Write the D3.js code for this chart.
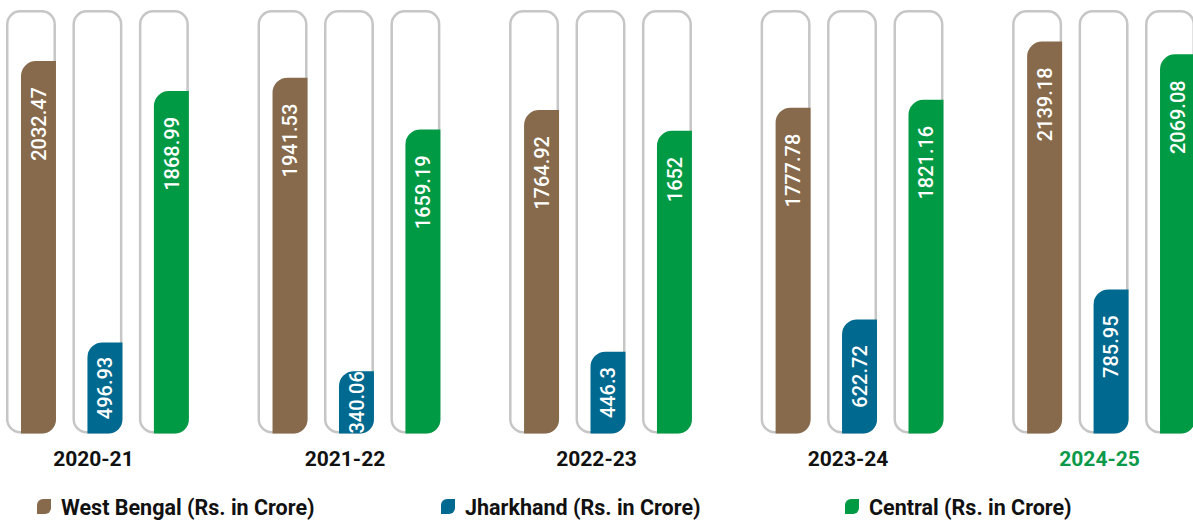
<!DOCTYPE html>
<html>
<head>
<meta charset="utf-8">
<script src="https://cdn.jsdelivr.net/npm/d3@7"></script>
<style>
  html, body { margin: 0; padding: 0; background: #ffffff; }
  svg { display: block; }
</style>
</head>
<body>
<svg id="chart" width="1193" height="521"></svg>
<script>
const years = ["2020-21", "2021-22", "2022-23", "2023-24", "2024-25"];
const seriesNames = ["West Bengal (Rs. in Crore)", "Jharkhand (Rs. in Crore)", "Central (Rs. in Crore)"];
const westBengal = [2032.47, 1941.53, 1764.92, 1777.78, 2139.18];
const jharkhand = [496.93, 340.06, 446.3, 622.72, 785.95];
const central = [1868.99, 1659.19, 1652, 1821.16, 2069.08];
const valueLabels = [
  ["2032.47", "1941.53", "1764.92", "1777.78", "2139.18"],
  ["496.93", "340.06", "446.3", "622.72", "785.95"],
  ["1868.99", "1659.19", "1652", "1821.16", "2069.08"]
];
const colors = ["#876A4B", "#00698F", "#009A44"];

const seriesValues = [westBengal, jharkhand, central];
const svg = d3.select("#chart");

const x0 = d3.scaleBand().domain(years).range([6, 1195]).paddingInner(0.273).paddingOuter(0);
const x1 = d3.scaleBand().domain(d3.range(3)).range([0, x0.bandwidth()]).paddingInner(0.248).paddingOuter(0);
const yMax = 2311;
const y = d3.scaleLinear().domain([0, yMax]).range([433.5, 10]);

const tubeW = x1.bandwidth();
const barInset = 15;

function barPath(xa, xb, yt, yb, rTL, rBR) {
  const h = yb - yt;
  const r1 = Math.min(rTL, h / 2, xb - xa);
  const r2 = Math.min(rBR, h / 2);
  return `M${xa},${yb} L${xa},${yt + r1} A${r1},${r1} 0 0 1 ${xa + r1},${yt} L${xb},${yt} L${xb},${yb - r2} A${r2},${r2} 0 0 1 ${xb - r2},${yb} Z`;
}

const data = [];
years.forEach((yr, i) => {
  seriesValues.forEach((arr, s) => {
    data.push({ year: yr, s, value: arr[i], label: valueLabels[s][i] });
  });
});

const groups = svg.selectAll("g.grp").data(years).join("g")
  .attr("class", "grp")
  .attr("transform", d => `translate(${x0(d)},0)`);

const cells = groups.selectAll("g.cell")
  .data(yr => data.filter(d => d.year === yr))
  .join("g").attr("class", "cell")
  .attr("transform", d => `translate(${x1(d.s)},0)`);

// tubes
cells.append("rect")
  .attr("x", 1.25).attr("y", y(yMax) + 1.25)
  .attr("width", tubeW - 2.5)
  .attr("height", y(0) - y(yMax) - 2.5)
  .attr("rx", 13).attr("ry", 13)
  .attr("fill", "#ffffff")
  .attr("stroke", "#C6C6C6")
  .attr("stroke-width", 2.5);

// bars
cells.append("path")
  .attr("d", d => barPath(barInset, tubeW, y(d.value), y(0), 15, 14))
  .attr("fill", d => colors[d.s]);

// value labels
cells.each(function(d) {
  const g = d3.select(this);
  const cx = (barInset + tubeW) / 2;
  const t = g.append("text")
    .attr("fill", "#ffffff")
    .attr("font-family", "Roboto, 'Open Sans', sans-serif")
    .attr("font-weight", 500)
    .attr("font-size", 20)
    .attr("text-anchor", "end")
    .attr("dy", "0.36em")
    .text(d.label);
  const len = t.node().getComputedTextLength();
  const barH = y(0) - y(d.value);
  const off = Math.min(26, (barH - len) / 2);
  t.attr("transform", `translate(${cx},${y(d.value) + off}) rotate(-90)`);
});

// category labels
svg.selectAll("text.cat").data(years).join("text")
  .attr("class", "cat")
  .attr("x", d => x0(d) + x0.bandwidth() / 2 - 4)
  .attr("y", 466)
  .attr("text-anchor", "middle")
  .attr("font-family", "Roboto, 'Open Sans', sans-serif")
  .attr("font-weight", 700)
  .attr("font-size", 21)
  .attr("fill", (d, i) => i === years.length - 1 ? "#0A9A4A" : "#111111")
  .text(d => d);

// legend
const lx = d3.scaleBand().domain(d3.range(3)).range([37, 37 + 404 * 3]).padding(0);
const leg = svg.selectAll("g.leg").data(seriesNames).join("g")
  .attr("class", "leg")
  .attr("transform", (d, i) => `translate(${lx(i)},499)`);
leg.append("path")
  .attr("d", barPath(0, 14, 0, 15, 6, 6))
  .attr("fill", (d, i) => colors[i]);
leg.append("text")
  .attr("x", 24).attr("y", 16)
  .attr("font-family", "Roboto, 'Open Sans', sans-serif")
  .attr("font-weight", 700)
  .attr("font-size", 21.5)
  .attr("fill", "#111111")
  .text(d => d);
</script>
</body>
</html>
